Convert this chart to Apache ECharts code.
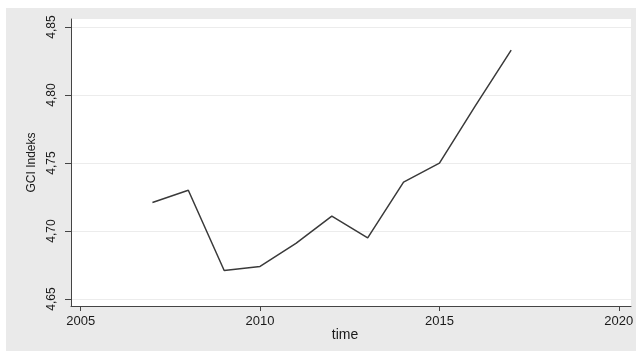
<!DOCTYPE html>
<html>
<head>
<meta charset="utf-8">
<script src="https://cdn.jsdelivr.net/npm/echarts@6/dist/echarts.min.js"></script>
<style>
html,body{margin:0;padding:0;background:#ffffff;width:636px;height:351px;overflow:hidden;}
#chart{position:absolute;left:6px;top:8px;width:630px;height:343px;background:#eaeaea;}
</style>
</head>
<body>
<div id="chart"></div>
<script>
var years = [2007, 2008, 2009, 2010, 2011, 2012, 2013, 2014, 2015, 2016, 2017];
var gciValues = [4.721, 4.730, 4.671, 4.674, 4.691, 4.711, 4.695, 4.736, 4.750, 4.792, 4.833];
var xTicks = [2005, 2010, 2015, 2020];
var yTicks = [4.65, 4.70, 4.75, 4.80, 4.85];

var chart = echarts.init(document.getElementById('chart'), null, {renderer: 'canvas'});
var data = years.map(function (y, i) { return [y, gciValues[i]]; });
var font = '"Liberation Sans", Arial, sans-serif';

chart.setOption({
  animation: false,
  backgroundColor: 'transparent',
  grid: {left: 65, top: 11, right: 5, bottom: 45, show: true, backgroundColor: '#ffffff', borderWidth: 0,
    containLabel: false, outerBoundsMode: 'none'},
  xAxis: {
    type: 'value', min: 2004.73, max: 2020.34,
    name: 'time', nameLocation: 'middle', nameGap: 22, nameMoveOverlap: false,
    nameTextStyle: {fontFamily: font, fontSize: 14, color: '#1a1a1a', padding: [0, 12, 0, 0]},
    axisLine: {show: true, lineStyle: {color: '#444', width: 1}},
    axisTick: {show: true, customValues: xTicks, length: 5, lineStyle: {color: '#444'}},
    axisLabel: {customValues: xTicks, fontFamily: font, fontSize: 13, color: '#1a1a1a', margin: 9,
      formatter: function (v) { return String(v); }},
    splitLine: {show: false}
  },
  yAxis: {
    type: 'value', min: 4.6449, max: 4.8559,
    name: 'GCI Indeks', nameLocation: 'middle', nameGap: 33, nameMoveOverlap: false,
    nameTextStyle: {fontFamily: font, fontSize: 12, color: '#1a1a1a'},
    axisLine: {show: true, lineStyle: {color: '#444', width: 1}},
    axisTick: {show: true, customValues: yTicks, length: 6, lineStyle: {color: '#444'}},
    axisLabel: {customValues: yTicks, rotate: 90, fontFamily: font, fontSize: 12, color: '#1a1a1a', margin: 13,
      formatter: function (v) { return v.toFixed(2).replace('.', ','); }},
    splitLine: {show: true, lineStyle: {color: '#ececec', width: 1}}
  },
  series: [{
    type: 'line', data: data, showSymbol: false,
    lineStyle: {color: '#3a3a3a', width: 1.5}
  }]
});
</script>
</body>
</html>
